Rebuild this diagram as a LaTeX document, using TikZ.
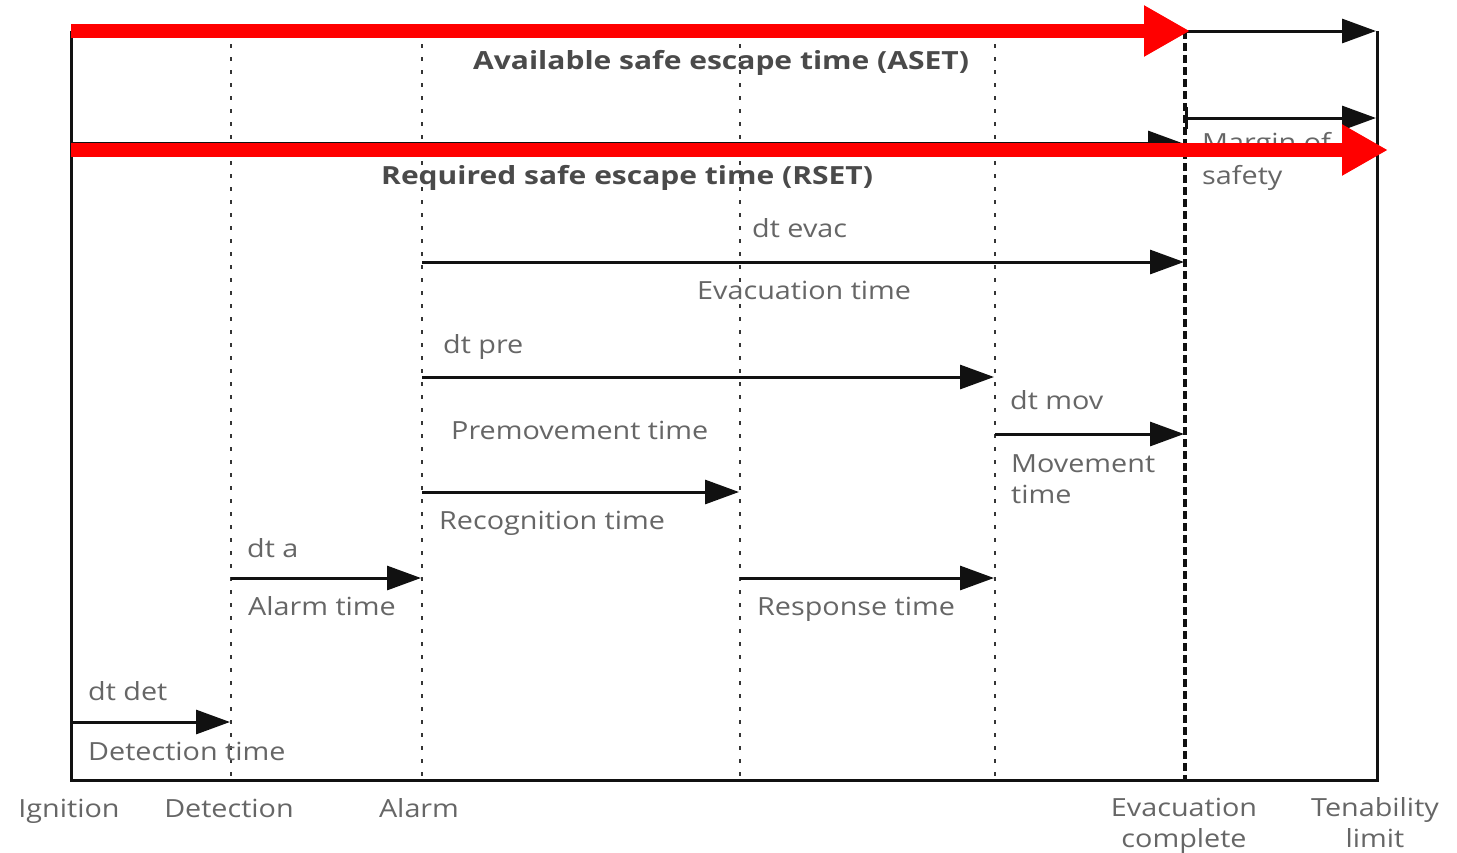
\documentclass[tikz,border=0pt]{standalone}
\usepackage{fontspec}
\setmainfont{Open Sans}[FakeStretch=1.15]
\newfontfamily\ttlfont{Open Sans}[FakeStretch=1.2]
\usetikzlibrary{arrows.meta}
\definecolor{txt}{HTML}{666666}
\definecolor{ttl}{HTML}{4A4A4A}
\definecolor{ln}{HTML}{111111}
\begin{document}
\begin{tikzpicture}[x=1pt,y=-1pt,
  lbl/.style={text=txt,font=\fontsize{25}{31}\selectfont,inner sep=0pt,anchor=base west},
  lblc/.style={lbl,anchor=base,align=center},
  ttlbl/.style={text=ttl,font=\fontsize{25}{31}\selectfont\ttlfont\bfseries,inner sep=0pt,anchor=base west},
  frame/.style={draw=ln,line width=3pt},
  dotln/.style={draw=ln!85,line width=2.8pt,dash pattern=on 4pt off 9pt},
  dashln/.style={draw=ln,line width=3.2pt,dash pattern=on 8pt off 4pt},
  arr/.style={draw=ln,line width=3pt,-{Triangle[length=34pt,width=24pt]}},
  tarr/.style={draw=ln,line width=3pt,{Bar[width=22pt,line width=3pt]}-{Triangle[length=34pt,width=24pt]}},
  redarr/.style={draw=red,line width=14pt,-{Triangle[length=46pt,width=48pt]}}]
\useasboundingbox (0,0) rectangle (1457,852);
\fill[white] (0,0) rectangle (1457,852);
% column coordinates
\coordinate (I-t) at (71,31);   \coordinate (I-b) at (71,780);
\coordinate (D-t) at (231,31);  \coordinate (D-b) at (231,780);
\coordinate (A-t) at (422,31);  \coordinate (A-b) at (422,780);
\coordinate (R-t) at (740,31);  \coordinate (R-b) at (740,780);
\coordinate (M-t) at (995,31);  \coordinate (M-b) at (995,780);
\coordinate (E-t) at (1185,31); \coordinate (E-b) at (1185,780);
\coordinate (T-t) at (1377,31); \coordinate (T-b) at (1377,780);
% frame
\draw[frame] (I-t) -- (I-b) -- (T-b) -- (T-t);
% dotted / dashed verticals
\draw[dotln] (D-t) -- (D-b);
\draw[dotln] (A-t) -- (A-b);
\draw[dotln] (R-t) -- (R-b);
\draw[dotln] (M-t) -- (M-b);
\draw[dashln] (E-t) -- (E-b);
% arrow end points
\coordinate (aset-s) at (71,31);    \coordinate (aset-e) at (1376,31);
\coordinate (mos-s) at (1185,118);  \coordinate (mos-e) at (1376,118);
\coordinate (rset-s) at (71,143);   \coordinate (rset-e) at (1182,143);
\coordinate (evac-s) at (422,262);  \coordinate (evac-e) at (1184,262);
\coordinate (pre-s) at (422,377);   \coordinate (pre-e) at (994,377);
\coordinate (mov-s) at (995,434);   \coordinate (mov-e) at (1184,434);
\coordinate (rec-s) at (422,492);   \coordinate (rec-e) at (739,492);
\coordinate (a-s) at (231,578);     \coordinate (a-e) at (421,578);
\coordinate (resp-s) at (740,578);  \coordinate (resp-e) at (994,578);
\coordinate (det-s) at (71,722);    \coordinate (det-e) at (230,722);
% black arrows
\draw[arr] (aset-s) -- (aset-e);
\draw[tarr] (mos-s) -- (mos-e);
\draw[arr] (rset-s) -- (rset-e);
\draw[arr] (evac-s) -- (evac-e);
\draw[arr] (pre-s) -- (pre-e);
\draw[arr] (mov-s) -- (mov-e);
\draw[arr] (rec-s) -- (rec-e);
\draw[arr] (a-s) -- (a-e);
\draw[arr] (resp-s) -- (resp-e);
\draw[arr] (det-s) -- (det-e);
% labels
\node[ttlbl] (aset) at (473,69) {Available safe escape time (ASET)};
\node[ttlbl] (rset) at (381,184) {Required safe escape time (RSET)};
\node[lbl] (mos1) at (1202,151) {Margin of};
\node[lbl] (mos2) at (1202,184) {safety};
\node[lbl] (dtevac) at (752,237) {dt evac};
\node[lbl] (evact) at (697,299) {Evacuation time};
\node[lbl] (dtpre) at (443,353) {dt pre};
\node[lbl] (premt) at (451,439) {Premovement time};
\node[lbl] (dtmov) at (1010,409) {dt mov};
\node[lbl] (movt1) at (1011,472) {Movement};
\node[lbl] (movt2) at (1011,503) {time};
\node[lbl] (rect) at (439,529) {Recognition time};
\node[lbl] (dta) at (247,557) {dt a};
\node[lbl] (alt) at (248,615) {Alarm time};
\node[lbl] (respt) at (757,615) {Response time};
\node[lbl] (dtdet) at (88,700) {dt det};
\node[lbl] (dett) at (88,760) {Detection time};
% axis labels
\node[lblc] (ign) at (69,817) {Ignition};
\node[lblc] (detl) at (229,817) {Detection};
\node[lblc] (alarm) at (419,817) {Alarm};
\node[lblc] (evc) at (1184,847) {Evacuation\\complete};
\node[lblc] (ten) at (1375,847) {Tenability\\limit};
% red overlay arrows
\coordinate (r1-s) at (71,31);  \coordinate (r1-e) at (1190,31);
\coordinate (r2-s) at (71,150); \coordinate (r2-e) at (1388,150);
\draw[redarr] (r1-s) -- (r1-e);
\draw[redarr] (r2-s) -- (r2-e);
\end{tikzpicture}
\end{document}
